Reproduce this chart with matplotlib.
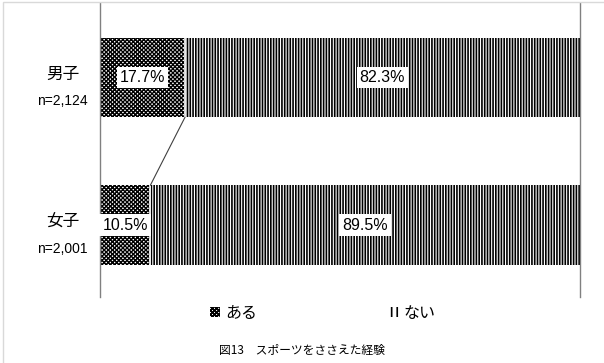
import matplotlib
matplotlib.use('Agg')
import matplotlib.pyplot as plt
from matplotlib.patches import Patch, Rectangle

plt.rcParams['font.family'] = ['Liberation Sans', 'Noto Sans CJK JP', 'DejaVu Sans']

# データ
groups = ['男子', '女子']
n_labels = ['n=2,124', 'n=2,001']
aru = [17.7, 10.5]
nai = [82.3, 89.5]
series_names = ['ある', 'ない']
caption = '図13　スポーツをささえた経験'

ypos = [1, 0]
h = 0.54

fig = plt.figure(figsize=(6.04, 3.63), dpi=100)
ax = fig.add_axes([100 / 604, 1 - 297 / 363, 480 / 604, 294 / 363])

plt.rcParams['hatch.linewidth'] = 1.0
b1 = ax.barh(ypos, aru, height=h, color='white', edgecolor='black',
             hatch='xxxxxxxx', linewidth=0)
h1 = Patch(facecolor='white', edgecolor='black', hatch='xxxxxxxx', lw=0)
plt.rcParams['hatch.linewidth'] = 1.2
b2 = ax.barh(ypos, nai, left=aru, height=h, color='white', edgecolor='black',
             hatch='||||||', linewidth=0)
h2 = Patch(facecolor='white', edgecolor='black', hatch='|||', lw=0)

# 区切りの白線
for i, y in enumerate(ypos):
    ax.plot([aru[i], aru[i]], [y - h / 2, y + h / 2], color='white', lw=1.2)

# 系列線
ax.plot([aru[0], aru[1]], [ypos[0] - h / 2, ypos[1] + h / 2], color='#404040', lw=0.8)

box = dict(boxstyle='square,pad=0.2', fc='white', ec='none')
for i, y in enumerate(ypos):
    ax.text(aru[i] / 2, y, f'{aru[i]}%', ha='center', va='center', fontsize=11.5, bbox=box)
    ax.text(aru[i] + nai[i] / 2, y, f'{nai[i]}%', ha='center', va='center', fontsize=11.5, bbox=box)
    ax.text(-7.8, y + 0.02, groups[i], ha='center', va='center', fontsize=12,
            family=['Noto Sans CJK JP'], clip_on=False)
    ax.text(-7.8, y - 0.16, n_labels[i], ha='center', va='center', fontsize=10,
            clip_on=False)

ax.set_xlim(0, 100)
ax.set_ylim(-0.488, 1.505)
ax.set_xticks([])
ax.set_yticks([])
for s in ['top', 'bottom']:
    ax.spines[s].set_visible(False)
for s in ['left', 'right']:
    ax.spines[s].set_color('#808080')
    ax.spines[s].set_linewidth(1)

fig.legend([h1, h2], series_names, ncol=2, loc='center', bbox_to_anchor=(0.535, 0.137),
           frameon=False, handlelength=0.6, handleheight=0.6, handletextpad=0.3,
           columnspacing=8.3, prop={'family': ['Noto Sans CJK JP'], 'size': 11.5})

fig.text(0.5, 0.035, caption, ha='center', va='center', fontsize=8.5,
         family=['Noto Sans CJK JP'])

# 枠
fig.patches.append(Rectangle((3 / 604, -0.01), 1, 1 - 2 / 363 + 0.01, transform=fig.transFigure,
                             fill=False, ec='#d9d9d9', lw=1))

fig.savefig('out.png', dpi=100)
